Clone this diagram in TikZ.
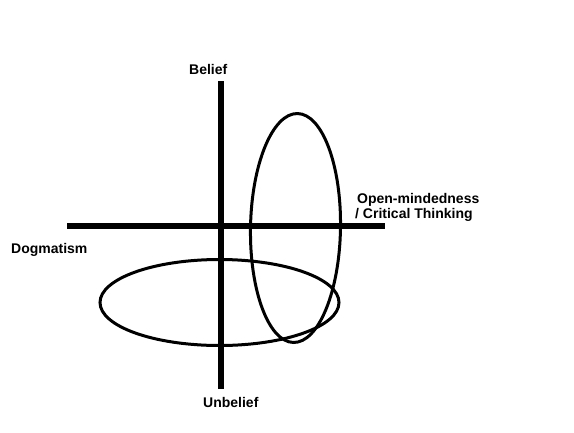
\documentclass[tikz,border=0pt]{standalone}
\usepackage{fontspec}
\setmainfont{Liberation Sans}
\begin{document}
\begin{tikzpicture}[x=1pt,y=-1pt,
  axis/.style={line width=5.5pt},
  loop/.style={line width=3pt},
  lbl/.style={anchor=base west,inner sep=0pt,font=\fontsize{14}{16}\selectfont\bfseries}]
\useasboundingbox[fill=white] (0,0) rectangle (574,432);
\coordinate (top) at (221,81);
\coordinate (bot) at (221,389);
\coordinate (lft) at (67,226);
\coordinate (rgt) at (385,226);
\draw[axis] (top) -- (bot);
\draw[axis] (lft) -- (rgt);
\draw[loop,rotate around={-1:(295.5,228)}] (295.5,228) ellipse [x radius=45, y radius=114.5];
\draw[loop] (219.5,302.5) ellipse [x radius=119.5, y radius=43];
\node[lbl] (belief) at (189,74) {Belief};
\node[lbl] (unbelief) at (203,407) {Unbelief};
\node[lbl] (dogma) at (11,253) {Dogmatism};
\node[lbl] (open1) at (357,203) {Open-mindedness};
\node[lbl] (open2) at (355,218) {/ Critical Thinking};
\end{tikzpicture}
\end{document}
